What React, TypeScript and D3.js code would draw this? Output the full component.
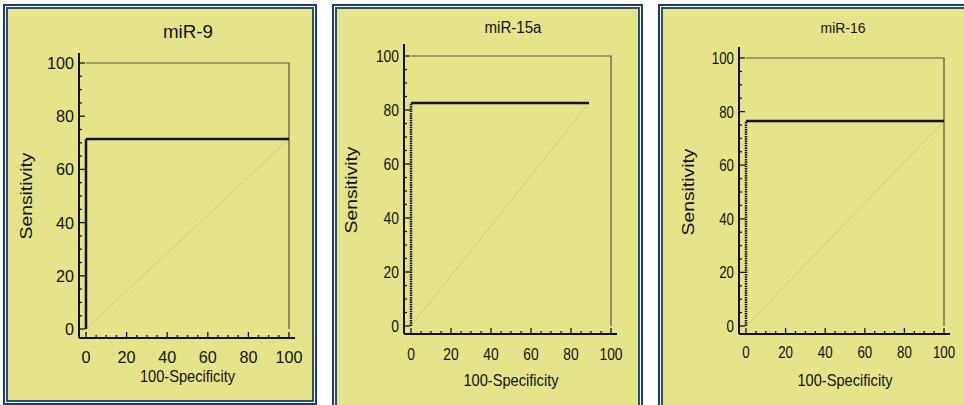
import React from "react";
import * as d3 from "d3";

// ROC data
const markers = ["miR-9", "miR-15a", "miR-16"];
const sensitivity = [71.4, 82.6, 76.5];
const curveEndX = [100, 89, 100];
const xTicks = [0, 20, 40, 60, 80, 100];
const yTicks = [0, 20, 40, 60, 80, 100];
const minorTicks = d3.range(0, 101, 5);

// per-panel layout (pixel boxes of each small chart)
const panels = [
  { fx0: 3, fx1: 317, ax: 79, x0: 86, x1: 289, y0: 329, y1: 63, axY: 338, axTop: 53,
    tx: 188, ty: 38, tSize: 19, tLen: 50, tick: 16.5, dw: 9, xlY: 363, xtY: 382, ylX: 32, ylY: 196, fb: 405 },
  { fx0: 332, fx1: 643, ax: 404, x0: 411, x1: 611, y0: 326, y1: 56, axY: 334, axTop: 44,
    tx: 513, ty: 33, tSize: 16, tLen: 57, tick: 17, dw: 7.7, xlY: 360, xtY: 386, ylX: 357, ylY: 190, fb: 410 },
  { fx0: 658, fx1: 975, ax: 739, x0: 746, x1: 944, y0: 326, y1: 58, axY: 334, axTop: 47,
    tx: 843, ty: 33, tSize: 15.5, tLen: 45, tick: 16.5, dw: 7.4, xlY: 358, xtY: 386, ylX: 694, ylY: 192, fb: 410 },
];

const NAVY = "#1d3a7a";
const YELLOW = "#e6e48b";
const FONT = "Liberation Sans, Arial, sans-serif";

const Panel = ({ i }: { i: number }) => {
  const p = panels[i];
  const x = d3.scaleLinear().domain([0, 100]).range([p.x0, p.x1]);
  const y = d3.scaleLinear().domain([0, 100]).range([p.y0, p.y1]);
  const line = d3.line<[number, number]>().x(d => x(d[0])).y(d => y(d[1]));
  const s = sensitivity[i];
  const end = curveEndX[i];
  const w = p.fx1 - p.fx0;
  const h = p.fb - 4;

  return (
    <g>
      {/* double frame */}
      <rect x={p.fx0} y={4} width={w} height={h} fill={NAVY} />
      <rect x={p.fx0 + 2} y={6} width={w - 4} height={h - 4} fill="#fff" />
      <rect x={p.fx0 + 3} y={7} width={w - 6} height={h - 6} fill="#2a4a8c" />
      <rect x={p.fx0 + 5} y={9} width={w - 10} height={h - 10} fill={YELLOW} />

      <text x={p.tx} y={p.ty} textAnchor="middle" fontSize={p.tSize} fill="#111" fontFamily={FONT}
        textLength={p.tLen} lengthAdjust="spacingAndGlyphs">
        {markers[i]}
      </text>

      {/* box */}
      <path d={line([[0, 100], [100, 100], [100, 0]])!} fill="none" stroke="#55553a" strokeWidth={1.2} />
      {/* diagonal */}
      <path d={line([[0, 0], [end, s]])!} fill="none" stroke="#cdcb7e" strokeWidth={1} />
      {/* ROC curve */}
      <path d={line([[0, 0], [0, s]])!} fill="none" stroke="#111" strokeWidth={2.5}
        strokeDasharray={i === 0 ? undefined : "1.5 0.8"} />
      <path d={line([[0, s], [end, s]])!} fill="none" stroke="#111" strokeWidth={2.5} />

      {/* y axis */}
      <line x1={p.ax} x2={p.ax} y1={p.axTop} y2={p.axY} stroke="#111" strokeWidth={2} />
      {minorTicks.map(t => (
        <line key={"ym" + t} x1={p.ax} x2={p.ax + (t % 20 === 0 ? 6 : 3)} y1={y(t)} y2={y(t)}
          stroke="#111" strokeWidth={1.3} />
      ))}
      {yTicks.map(t => (
        <text key={"yl" + t} x={p.ax - 5} y={y(t)} dy="0.36em" textAnchor="end" fontSize={p.tick}
          fill="#111" fontFamily={FONT} textLength={String(t).length * p.dw}
          lengthAdjust="spacingAndGlyphs">{t}</text>
      ))}

      {/* x axis */}
      <line x1={p.ax} x2={x(100) + 6} y1={p.axY} y2={p.axY} stroke="#111" strokeWidth={2} />
      {minorTicks.map(t => (
        <line key={"xm" + t} x1={x(t)} x2={x(t)} y1={p.axY} y2={p.axY - (t % 20 === 0 ? 6 : 3)}
          stroke="#111" strokeWidth={1.3} />
      ))}
      {xTicks.map(t => (
        <text key={"xl" + t} x={x(t)} y={p.xlY} textAnchor="middle" fontSize={p.tick}
          fill="#111" fontFamily={FONT} textLength={String(t).length * p.dw}
          lengthAdjust="spacingAndGlyphs">{t}</text>
      ))}

      <text x={(p.x0 + p.x1) / 2} y={p.xtY} textAnchor="middle" fontSize={17} fill="#111"
        fontFamily={FONT} textLength={95} lengthAdjust="spacingAndGlyphs">100-Specificity</text>
      <text transform={`translate(${p.ylX},${p.ylY}) rotate(-90)`} textAnchor="middle" fontSize={16.5}
        fill="#111" fontFamily={FONT} textLength={87} lengthAdjust="spacingAndGlyphs">Sensitivity</text>
    </g>
  );
};

export default function App() {
  return (
    <svg width={964} height={405} style={{ position: "absolute", left: 0, top: 0, background: "#fff" }}>
      {markers.map((m, i) => <Panel key={m} i={i} />)}
    </svg>
  );
}
